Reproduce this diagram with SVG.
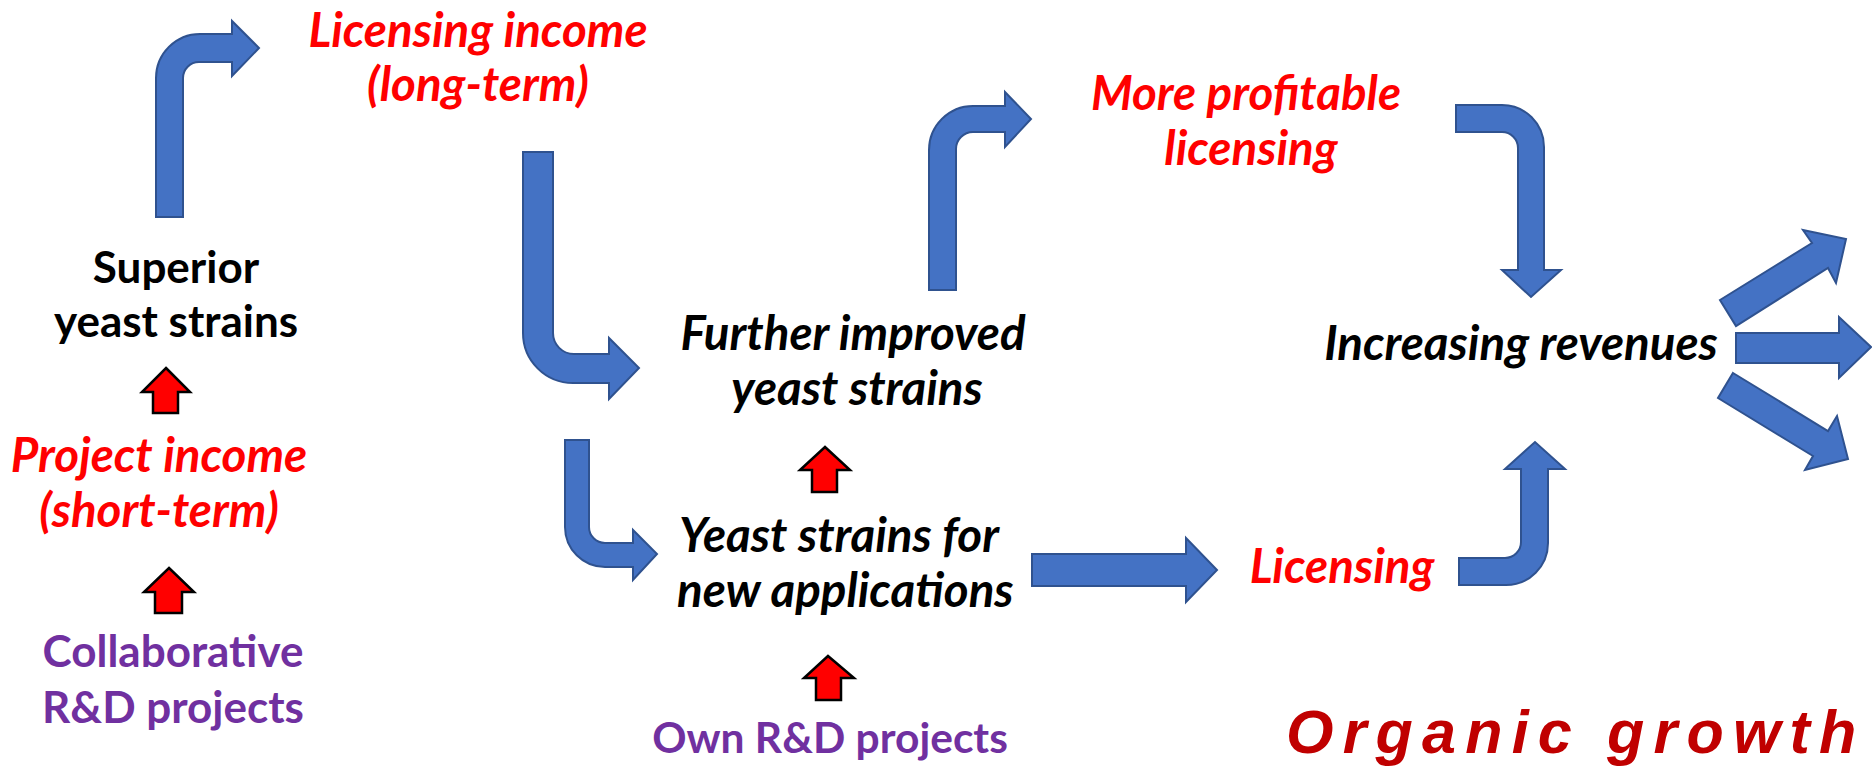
<svg xmlns="http://www.w3.org/2000/svg" width="1872" height="766" viewBox="0 0 1872 766">
  <style>
    .flow { fill: #4472C4; stroke: #2F528F; stroke-width: 2; stroke-linejoin: miter; }
    .push { fill: #FF0000; stroke: #000000; stroke-width: 2.5; stroke-linejoin: miter; }
    .lbl { font-family: Lato, "Open Sans", "Liberation Sans", sans-serif; font-size: 44px; font-weight: bold; }
    .it { font-style: italic; font-size: 47.5px; }
    .mid { text-anchor: middle; }
    .red { fill: #FF0000; }
    .blk { fill: #000000; }
    .pur { fill: #7030A0; }
    .motto { font-family: "Liberation Sans", Arial, sans-serif; font-size: 61px; font-weight: bold; font-style: italic; fill: #C00000; letter-spacing: 9.2px; }
  </style>

  <rect width="1872" height="766" fill="#FFFFFF"/>

  <!-- blue flow arrows -->
  <g id="connectors">
    <!-- superior strains -> licensing income -->
    <path class="flow" d="M156,217 L156,78 A44,44 0 0 1 200,34 L232,34 L232,21 L259,48 L232,76 L232,62 L199,62 A16,16 0 0 0 183,78 L183,217 Z"/>
    <!-- licensing income -> further improved strains -->
    <path class="flow" d="M523,152 L553,152 L553,333 A21,21 0 0 0 574,354 L609,354 L609,338 L639,368 L609,399 L609,383 L573,383 A50,50 0 0 1 523,333 Z"/>
    <!-- further improved strains -> more profitable licensing -->
    <path class="flow" d="M929,290 L929,150 A44,44 0 0 1 973,106 L1005,106 L1005,92 L1031,119 L1005,147 L1005,132 L973,132 A17,17 0 0 0 956,149 L956,290 Z"/>
    <!-- more profitable licensing -> increasing revenues -->
    <path class="flow" d="M1456,105 L1502,105 A42,42 0 0 1 1544,147 L1544,270 L1561,270 L1531,297 L1502,270 L1518,270 L1518,148 A16,16 0 0 0 1502,132 L1456,132 Z"/>
    <!-- licensing -> increasing revenues -->
    <path class="flow" d="M1459,558 L1505,558 A16,16 0 0 0 1521,542 L1521,469 L1505,469 L1535,442 L1565,469 L1548,469 L1548,543 A42,42 0 0 1 1506,585 L1459,585 Z"/>
    <!-- licensing income -> strains for new applications -->
    <path class="flow" d="M565,440 L589,440 L589,527 A16,16 0 0 0 605,543 L633,543 L633,530 L657,554 L633,580 L633,567 L605,567 A40,40 0 0 1 565,527 Z"/>
    <!-- strains for new applications -> licensing -->
    <polygon class="flow" points="1032,554 1186,554 1186,538 1217,570 1186,602 1186,586 1032,586"/>
    <!-- revenue fan-out -->
    <polygon class="flow" points="1720,300 1812,243 1803,230 1846,239 1836,283 1828,268 1736,326"/>
    <polygon class="flow" points="1736,333 1839,333 1839,317 1871,347 1839,378 1839,363 1736,363"/>
    <polygon class="flow" points="1733,373 1828,431 1837,416 1848,459 1805,470 1813,456 1718,398"/>

    <!-- red input arrows -->
    <polygon class="push" points="166,368 190,392 178,392 178,413 153,413 153,392 142,392"/>
    <polygon class="push" points="169,568 194,592 182,592 182,613 155,613 155,592 144,592"/>
    <polygon class="push" points="825,447 850,470 837,470 837,492 812,492 812,470 800,470"/>
    <polygon class="push" points="828,656 854,678 841,678 841,700 816,700 816,678 804,678"/>
  </g>

  <g id="licensing-income">
    <text class="lbl it red mid" x="478" y="47">Licensing income</text>
    <text class="lbl it red mid" x="478" y="101">(long-term)</text>
  </g>

  <g id="more-profitable-licensing">
    <text class="lbl it red mid" x="1246" y="110">More profitable</text>
    <text class="lbl it red mid" x="1251" y="165">licensing</text>
  </g>

  <g id="further-improved-strains">
    <text class="lbl it blk mid" x="853" y="350">Further improved</text>
    <text class="lbl it blk mid" x="857" y="405">yeast strains</text>
  </g>

  <g id="increasing-revenues">
    <text class="lbl it blk mid" x="1521" y="360">Increasing revenues</text>
  </g>

  <g id="new-application-strains">
    <text class="lbl it blk" x="679" y="552">Yeast strains for</text>
    <text class="lbl it blk" x="677" y="607">new applications</text>
  </g>

  <g id="licensing">
    <text class="lbl it red mid" x="1342" y="583">Licensing</text>
  </g>

  <g id="superior-strains">
    <text class="lbl blk mid" x="176" y="283">Superior</text>
    <text class="lbl blk mid" x="176" y="337">yeast strains</text>
  </g>

  <g id="project-income">
    <text class="lbl it red mid" x="159" y="472">Project income</text>
    <text class="lbl it red mid" x="159" y="527">(short-term)</text>
  </g>

  <g id="collaborative-projects">
    <text class="lbl pur mid" x="173" y="667">Collaborative</text>
    <text class="lbl pur mid" x="173" y="723">R&amp;D projects</text>
  </g>

  <g id="own-projects">
    <text class="lbl pur mid" x="830" y="753" style="font-size:42.5px">Own R&amp;D projects</text>
  </g>

  <g id="organic-growth">
    <text class="motto" x="1286" y="753">Organic growt<tspan letter-spacing="0">h</tspan></text>
  </g>
</svg>
